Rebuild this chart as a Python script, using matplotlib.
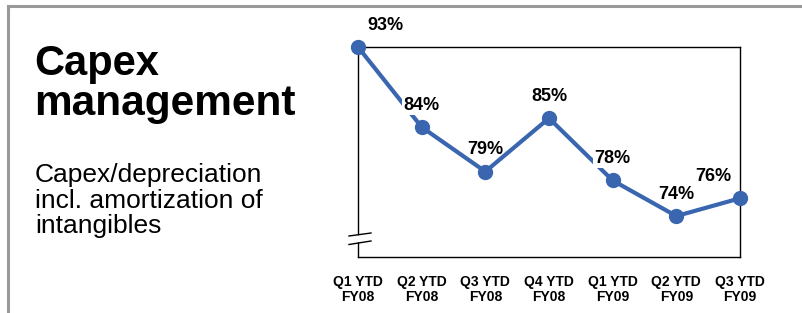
import matplotlib
matplotlib.use("Agg")
import matplotlib.pyplot as plt
from matplotlib.lines import Line2D
from matplotlib.patches import Polygon

plt.rcParams['font.family'] = ['Liberation Sans', 'DejaVu Sans']

categories = ["Q1 YTD\nFY08", "Q2 YTD\nFY08", "Q3 YTD\nFY08", "Q4 YTD\nFY08",
              "Q1 YTD\nFY09", "Q2 YTD\nFY09", "Q3 YTD\nFY09"]
values = [93, 84, 79, 85, 78, 74, 76]
labels = ["93%", "84%", "79%", "85%", "78%", "74%", "76%"]

W, H = 803, 313
fig = plt.figure(figsize=(W / 100, H / 100), dpi=100)

def fx(px):
    return px / W

def fy(py):
    return 1 - py / H

# axes box
L, R, T, B = 358, 740, 47, 257
ax = fig.add_axes([fx(L), fy(B), fx(R) - fx(L), fy(T) - fy(B)])
ax.set_xlim(0, len(values) - 1)
ax.set_ylim(69.4, 93)
for s in ax.spines.values():
    s.set_linewidth(1.0)
    s.set_color('black')
ax.set_yticks([])
ax.set_xticks(range(len(categories)))
ax.set_xticklabels(categories, fontsize=10, fontweight='bold', linespacing=1.1)
ax.tick_params(axis='x', length=0, pad=13)

color = '#3A66B0'
ax.plot(range(len(values)), values, color=color, lw=3, marker='o', ms=10,
        clip_on=False, zorder=5)

offsets = [(27, 22), (0, 22), (0, 22), (0, 22), (0, 22), (0, 22), (-27, 22)]
boxed = [False, True, False, False, True, False, False]
for i, (v, lab) in enumerate(zip(values, labels)):
    kw = {}
    if boxed[i]:
        kw['bbox'] = dict(facecolor='white', edgecolor='none', pad=1.0)
    ax.annotate(lab, (i, v), xytext=offsets[i], textcoords='offset pixels',
                ha='center', va='center', fontsize=13, fontweight='bold',
                zorder=6, annotation_clip=False, **kw)

# axis break marks
poly = Polygon([(fx(350), fy(236.5)), (fx(371), fy(233.5)), (fx(371), fy(240.5)), (fx(350), fy(243.5))],
               closed=True, facecolor='white', edgecolor='none', transform=fig.transFigure, zorder=10)
fig.add_artist(poly)
for (x0, y0, x1, y1) in [(349, 236, 371, 233), (349, 244.5, 371, 241)]:
    fig.add_artist(Line2D([fx(x0), fx(x1)], [fy(y0), fy(y1)], color='black', lw=1.0,
                          transform=fig.transFigure, zorder=11))

# outer gray frame (top and left)
fig.add_artist(Line2D([fx(8), fx(803)], [fy(6), fy(6)], color='#999999', lw=2.2,
                      transform=fig.transFigure))
fig.add_artist(Line2D([fx(8), fx(8)], [fy(6), fy(313)], color='#999999', lw=2.2,
                      transform=fig.transFigure))

# titles
fig.text(fx(34), fy(75), "Capex", fontsize=30, fontweight='bold', va='baseline', ha='left')
fig.text(fx(34), fy(115), "management", fontsize=30.5, fontweight='bold', va='baseline', ha='left')
for j, line in enumerate(["Capex/depreciation", "incl. amortization of", "intangibles"]):
    fig.text(fx(35), fy(182 + j * 25.5), line, fontsize=19, va='baseline', ha='left')

fig.savefig("out.png", dpi=100)
